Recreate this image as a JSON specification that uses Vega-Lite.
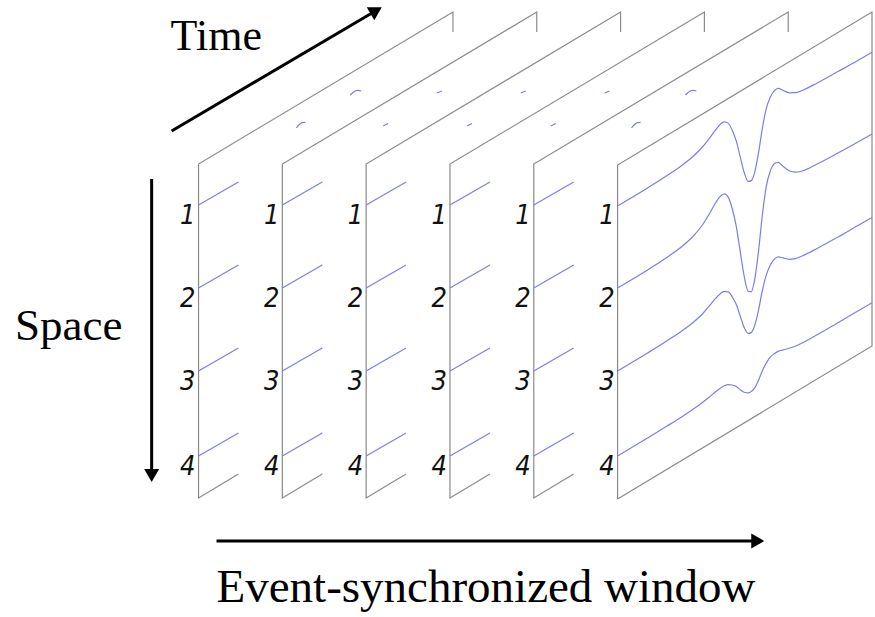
{
  "$schema": "https://vega.github.io/schema/vega-lite/v6.json",
  "width": 875,
  "height": 617,
  "autosize": {"type": "fit", "contains": "padding"},
  "padding": 0,
  "background": "white",
  "config": {"view": {"stroke": null}},
  "datasets": {
    "frames": [
      {"s": "p0", "i": 0, "x": 239, "y": 474}, {"s": "p0", "i": 1, "x": 199, "y": 498}, {"s": "p0", "i": 2, "x": 199, "y": 164}, {"s": "p0", "i": 3, "x": 454, "y": 12}, {"s": "p0", "i": 4, "x": 454, "y": 32},
      {"s": "p1", "i": 0, "x": 323, "y": 474}, {"s": "p1", "i": 1, "x": 283, "y": 498}, {"s": "p1", "i": 2, "x": 283, "y": 164}, {"s": "p1", "i": 3, "x": 538, "y": 12}, {"s": "p1", "i": 4, "x": 538, "y": 32},
      {"s": "p2", "i": 0, "x": 407, "y": 474}, {"s": "p2", "i": 1, "x": 367, "y": 498}, {"s": "p2", "i": 2, "x": 367, "y": 164}, {"s": "p2", "i": 3, "x": 622, "y": 12}, {"s": "p2", "i": 4, "x": 622, "y": 32},
      {"s": "p3", "i": 0, "x": 491, "y": 474}, {"s": "p3", "i": 1, "x": 451, "y": 498}, {"s": "p3", "i": 2, "x": 451, "y": 164}, {"s": "p3", "i": 3, "x": 706, "y": 12}, {"s": "p3", "i": 4, "x": 706, "y": 32},
      {"s": "p4", "i": 0, "x": 575, "y": 474}, {"s": "p4", "i": 1, "x": 535, "y": 498}, {"s": "p4", "i": 2, "x": 535, "y": 164}, {"s": "p4", "i": 3, "x": 790, "y": 12}, {"s": "p4", "i": 4, "x": 790, "y": 32},
      {"s": "p5", "i": 0, "x": 619, "y": 499}, {"s": "p5", "i": 1, "x": 619, "y": 165}, {"s": "p5", "i": 2, "x": 874, "y": 12}, {"s": "p5", "i": 3, "x": 874, "y": 346}, {"s": "p5", "i": 4, "x": 619, "y": 499}
    ],
    "traces": [
      {"s": "b0c1", "x": 199, "y": 205}, {"s": "b0c1", "x": 239, "y": 182},
      {"s": "b0c2", "x": 199, "y": 288}, {"s": "b0c2", "x": 239, "y": 265},
      {"s": "b0c3", "x": 199, "y": 371}, {"s": "b0c3", "x": 239, "y": 348},
      {"s": "b0c4", "x": 199, "y": 456}, {"s": "b0c4", "x": 239, "y": 433},
      {"s": "b1c1", "x": 283, "y": 205}, {"s": "b1c1", "x": 323, "y": 182},
      {"s": "b1c2", "x": 283, "y": 288}, {"s": "b1c2", "x": 323, "y": 265},
      {"s": "b1c3", "x": 283, "y": 371}, {"s": "b1c3", "x": 323, "y": 348},
      {"s": "b1c4", "x": 283, "y": 456}, {"s": "b1c4", "x": 323, "y": 433},
      {"s": "b2c1", "x": 367, "y": 205}, {"s": "b2c1", "x": 407, "y": 182},
      {"s": "b2c2", "x": 367, "y": 288}, {"s": "b2c2", "x": 407, "y": 265},
      {"s": "b2c3", "x": 367, "y": 371}, {"s": "b2c3", "x": 407, "y": 348},
      {"s": "b2c4", "x": 367, "y": 456}, {"s": "b2c4", "x": 407, "y": 433},
      {"s": "b3c1", "x": 451, "y": 205}, {"s": "b3c1", "x": 491, "y": 182},
      {"s": "b3c2", "x": 451, "y": 288}, {"s": "b3c2", "x": 491, "y": 265},
      {"s": "b3c3", "x": 451, "y": 371}, {"s": "b3c3", "x": 491, "y": 348},
      {"s": "b3c4", "x": 451, "y": 456}, {"s": "b3c4", "x": 491, "y": 433},
      {"s": "b4c1", "x": 535, "y": 205}, {"s": "b4c1", "x": 575, "y": 182},
      {"s": "b4c2", "x": 535, "y": 288}, {"s": "b4c2", "x": 575, "y": 265},
      {"s": "b4c3", "x": 535, "y": 371}, {"s": "b4c3", "x": 575, "y": 348},
      {"s": "b4c4", "x": 535, "y": 456}, {"s": "b4c4", "x": 575, "y": 433},
      {"s": "a0l", "x": 297, "y": 128}, {"s": "a0l", "x": 300, "y": 124.5}, {"s": "a0l", "x": 303, "y": 122.6}, {"s": "a0l", "x": 306, "y": 122.4},
      {"s": "a0u", "x": 351, "y": 95}, {"s": "a0u", "x": 355, "y": 91.5}, {"s": "a0u", "x": 359, "y": 90.3}, {"s": "a0u", "x": 362, "y": 91},
      {"s": "a1l", "x": 384, "y": 126}, {"s": "a1l", "x": 389, "y": 123.5},
      {"s": "a1u", "x": 438, "y": 93}, {"s": "a1u", "x": 443, "y": 91},
      {"s": "a2l", "x": 468, "y": 126}, {"s": "a2l", "x": 473, "y": 123.5},
      {"s": "a2u", "x": 522, "y": 93}, {"s": "a2u", "x": 527, "y": 91},
      {"s": "a3l", "x": 552, "y": 126}, {"s": "a3l", "x": 557, "y": 123.5},
      {"s": "a3u", "x": 606, "y": 93}, {"s": "a3u", "x": 611, "y": 91},
      {"s": "a4l", "x": 633, "y": 128}, {"s": "a4l", "x": 636, "y": 124.5}, {"s": "a4l", "x": 639, "y": 122.6}, {"s": "a4l", "x": 642, "y": 122.4},
      {"s": "a4u", "x": 687, "y": 95}, {"s": "a4u", "x": 691, "y": 91.5}, {"s": "a4u", "x": 695, "y": 90.3}, {"s": "a4u", "x": 698, "y": 91},
      {"s": "f1", "x": 619, "y": 206}, {"s": "f1", "x": 649, "y": 188}, {"s": "f1", "x": 669, "y": 175.3}, {"s": "f1", "x": 684, "y": 165}, {"s": "f1", "x": 694, "y": 157}, {"s": "f1", "x": 704, "y": 147}, {"s": "f1", "x": 711, "y": 138.3}, {"s": "f1", "x": 717, "y": 130.2}, {"s": "f1", "x": 722, "y": 124.2}, {"s": "f1", "x": 726, "y": 121.8}, {"s": "f1", "x": 730, "y": 123.4}, {"s": "f1", "x": 734, "y": 130.4}, {"s": "f1", "x": 738, "y": 141.2}, {"s": "f1", "x": 742, "y": 157.2}, {"s": "f1", "x": 746, "y": 172.8}, {"s": "f1", "x": 750, "y": 181.4}, {"s": "f1", "x": 753, "y": 180.6}, {"s": "f1", "x": 756, "y": 173.8}, {"s": "f1", "x": 760, "y": 154.4}, {"s": "f1", "x": 764, "y": 129}, {"s": "f1", "x": 768, "y": 108.6}, {"s": "f1", "x": 772, "y": 97.2}, {"s": "f1", "x": 776, "y": 90.8}, {"s": "f1", "x": 780, "y": 88.4}, {"s": "f1", "x": 785, "y": 90.4}, {"s": "f1", "x": 791, "y": 92.8}, {"s": "f1", "x": 797, "y": 92.7}, {"s": "f1", "x": 804, "y": 90.5}, {"s": "f1", "x": 819, "y": 83}, {"s": "f1", "x": 839, "y": 72}, {"s": "f1", "x": 859, "y": 61}, {"s": "f1", "x": 874, "y": 52.3},
      {"s": "f2", "x": 619, "y": 288}, {"s": "f2", "x": 649, "y": 270}, {"s": "f2", "x": 669, "y": 257}, {"s": "f2", "x": 684, "y": 246}, {"s": "f2", "x": 694, "y": 237}, {"s": "f2", "x": 704, "y": 225}, {"s": "f2", "x": 711, "y": 213.8}, {"s": "f2", "x": 717, "y": 203.2}, {"s": "f2", "x": 722, "y": 196.2}, {"s": "f2", "x": 726, "y": 193.8}, {"s": "f2", "x": 730, "y": 197.4}, {"s": "f2", "x": 734, "y": 209}, {"s": "f2", "x": 738, "y": 226.6}, {"s": "f2", "x": 742, "y": 252.2}, {"s": "f2", "x": 746, "y": 276.8}, {"s": "f2", "x": 750, "y": 291.4}, {"s": "f2", "x": 753, "y": 291.6}, {"s": "f2", "x": 756, "y": 281.8}, {"s": "f2", "x": 760, "y": 253.4}, {"s": "f2", "x": 764, "y": 216}, {"s": "f2", "x": 768, "y": 186.6}, {"s": "f2", "x": 772, "y": 171.2}, {"s": "f2", "x": 776, "y": 163.8}, {"s": "f2", "x": 780, "y": 162.4}, {"s": "f2", "x": 785, "y": 166.4}, {"s": "f2", "x": 791, "y": 170.8}, {"s": "f2", "x": 797, "y": 172.2}, {"s": "f2", "x": 804, "y": 171}, {"s": "f2", "x": 819, "y": 164}, {"s": "f2", "x": 839, "y": 153.5}, {"s": "f2", "x": 859, "y": 142.5}, {"s": "f2", "x": 874, "y": 134},
      {"s": "f3", "x": 619, "y": 371}, {"s": "f3", "x": 649, "y": 353}, {"s": "f3", "x": 669, "y": 340.5}, {"s": "f3", "x": 684, "y": 330.5}, {"s": "f3", "x": 694, "y": 323}, {"s": "f3", "x": 704, "y": 314}, {"s": "f3", "x": 711, "y": 305.8}, {"s": "f3", "x": 717, "y": 298.7}, {"s": "f3", "x": 722, "y": 293.7}, {"s": "f3", "x": 726, "y": 291.3}, {"s": "f3", "x": 730, "y": 291.9}, {"s": "f3", "x": 734, "y": 297}, {"s": "f3", "x": 738, "y": 304.6}, {"s": "f3", "x": 742, "y": 316.2}, {"s": "f3", "x": 746, "y": 327.8}, {"s": "f3", "x": 750, "y": 333.4}, {"s": "f3", "x": 753, "y": 332.6}, {"s": "f3", "x": 756, "y": 326.8}, {"s": "f3", "x": 760, "y": 311.4}, {"s": "f3", "x": 764, "y": 291}, {"s": "f3", "x": 768, "y": 275.1}, {"s": "f3", "x": 772, "y": 265.2}, {"s": "f3", "x": 776, "y": 259.3}, {"s": "f3", "x": 780, "y": 256.9}, {"s": "f3", "x": 785, "y": 257.9}, {"s": "f3", "x": 791, "y": 259.3}, {"s": "f3", "x": 797, "y": 258.7}, {"s": "f3", "x": 804, "y": 256}, {"s": "f3", "x": 819, "y": 248.5}, {"s": "f3", "x": 839, "y": 237.5}, {"s": "f3", "x": 859, "y": 226}, {"s": "f3", "x": 874, "y": 217.5},
      {"s": "f4", "x": 619, "y": 456}, {"s": "f4", "x": 649, "y": 438}, {"s": "f4", "x": 669, "y": 425.8}, {"s": "f4", "x": 684, "y": 416.4}, {"s": "f4", "x": 694, "y": 409.8}, {"s": "f4", "x": 704, "y": 402.6}, {"s": "f4", "x": 711, "y": 397}, {"s": "f4", "x": 717, "y": 392}, {"s": "f4", "x": 722, "y": 388.2}, {"s": "f4", "x": 726, "y": 385.8}, {"s": "f4", "x": 730, "y": 384.6}, {"s": "f4", "x": 734, "y": 385}, {"s": "f4", "x": 738, "y": 386.6}, {"s": "f4", "x": 742, "y": 389.7}, {"s": "f4", "x": 746, "y": 392.3}, {"s": "f4", "x": 750, "y": 392.9}, {"s": "f4", "x": 753, "y": 391.6}, {"s": "f4", "x": 756, "y": 388.3}, {"s": "f4", "x": 760, "y": 380.9}, {"s": "f4", "x": 764, "y": 371}, {"s": "f4", "x": 768, "y": 363.1}, {"s": "f4", "x": 772, "y": 357.2}, {"s": "f4", "x": 776, "y": 353.8}, {"s": "f4", "x": 780, "y": 351.4}, {"s": "f4", "x": 785, "y": 349.9}, {"s": "f4", "x": 791, "y": 348.3}, {"s": "f4", "x": 797, "y": 346.2}, {"s": "f4", "x": 804, "y": 343}, {"s": "f4", "x": 819, "y": 334.8}, {"s": "f4", "x": 839, "y": 323.2}, {"s": "f4", "x": 859, "y": 311.5}, {"s": "f4", "x": 874, "y": 302.7}
    ],
    "digits": [
      {"x": 196, "y": 224, "t": "1"}, {"x": 196, "y": 307, "t": "2"}, {"x": 196, "y": 390, "t": "3"}, {"x": 196, "y": 475, "t": "4"},
      {"x": 280, "y": 224, "t": "1"}, {"x": 280, "y": 307, "t": "2"}, {"x": 280, "y": 390, "t": "3"}, {"x": 280, "y": 475, "t": "4"},
      {"x": 364, "y": 224, "t": "1"}, {"x": 364, "y": 307, "t": "2"}, {"x": 364, "y": 390, "t": "3"}, {"x": 364, "y": 475, "t": "4"},
      {"x": 448, "y": 224, "t": "1"}, {"x": 448, "y": 307, "t": "2"}, {"x": 448, "y": 390, "t": "3"}, {"x": 448, "y": 475, "t": "4"},
      {"x": 532, "y": 224, "t": "1"}, {"x": 532, "y": 307, "t": "2"}, {"x": 532, "y": 390, "t": "3"}, {"x": 532, "y": 475, "t": "4"},
      {"x": 616, "y": 224, "t": "1"}, {"x": 616, "y": 307, "t": "2"}, {"x": 616, "y": 390, "t": "3"}, {"x": 616, "y": 475, "t": "4"}
    ]
  },
  "encoding": {
    "x": {"field": "x", "type": "quantitative", "scale": {"domain": [0, 875], "nice": false, "zero": false}, "axis": null},
    "y": {"field": "y", "type": "quantitative", "scale": {"domain": [0, 617], "reverse": true, "nice": false, "zero": false}, "axis": null}
  },
  "layer": [
    {
      "data": {"name": "frames"},
      "mark": {"type": "line", "color": "#8a8a8a", "strokeWidth": 1.2},
      "encoding": {"detail": {"field": "s"}, "order": {"field": "i", "type": "quantitative"}}
    },
    {
      "data": {"name": "traces"},
      "mark": {"type": "line", "color": "#7d7dea", "strokeWidth": 1.2, "interpolate": "monotone"},
      "encoding": {"detail": {"field": "s"}}
    },
    {
      "data": {"name": "digits"},
      "mark": {"type": "text", "font": "Liberation Sans Narrow, DejaVu Sans Condensed, sans-serif", "fontStyle": "italic", "fontSize": 27, "align": "right", "baseline": "alphabetic", "color": "#111111"},
      "encoding": {"text": {"field": "t"}}
    },
    {
      "data": {"values": [{"x": 171, "y": 50, "t": "Time"}]},
      "mark": {"type": "text", "font": "Liberation Serif", "fontSize": 44, "align": "left", "baseline": "alphabetic", "color": "black"},
      "encoding": {"text": {"field": "t"}}
    },
    {
      "data": {"values": [{"x": 15, "y": 340, "t": "Space"}]},
      "mark": {"type": "text", "font": "Liberation Serif", "fontSize": 45, "align": "left", "baseline": "alphabetic", "color": "black"},
      "encoding": {"text": {"field": "t"}}
    },
    {
      "data": {"values": [{"x": 217, "y": 602, "t": "Event-synchronized window"}]},
      "mark": {"type": "text", "font": "Liberation Serif", "fontSize": 47, "align": "left", "baseline": "alphabetic", "color": "black"},
      "encoding": {"text": {"field": "t"}}
    },
    {
      "data": {"values": [
        {"a": "time", "x": 172, "y": 131, "x2": 372, "y2": 13.5},
        {"a": "space", "x": 152, "y": 179, "x2": 152, "y2": 472},
        {"a": "window", "x": 217, "y": 541, "x2": 756, "y2": 541}
      ]},
      "mark": {"type": "rule", "color": "black", "strokeWidth": 3},
      "encoding": {"x2": {"field": "x2"}, "y2": {"field": "y2"}}
    },
    {
      "data": {"values": [{"a": "time", "x": 377, "y": 10.5}]},
      "mark": {"type": "point", "shape": "triangle-right", "filled": true, "size": 225, "color": "black", "opacity": 1, "angle": 329.6}
    },
    {
      "data": {"values": [{"a": "space", "x": 152, "y": 475.5}]},
      "mark": {"type": "point", "shape": "triangle-down", "filled": true, "size": 225, "color": "black", "opacity": 1}
    },
    {
      "data": {"values": [{"a": "window", "x": 759.5, "y": 541}]},
      "mark": {"type": "point", "shape": "triangle-right", "filled": true, "size": 225, "color": "black", "opacity": 1}
    }
  ]
}
